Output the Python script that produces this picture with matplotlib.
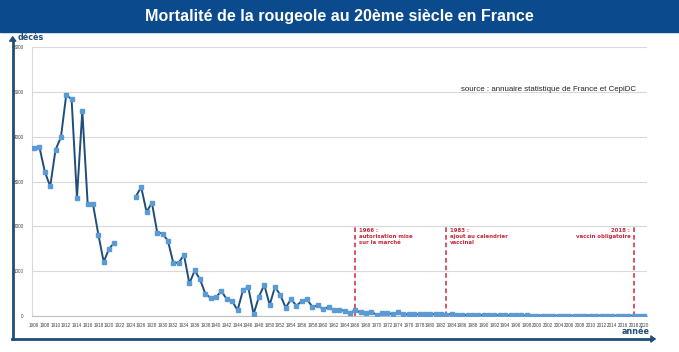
import numpy as np
import matplotlib.pyplot as plt
from matplotlib.patches import Rectangle, FancyArrowPatch

colors = {
    "banner": '#0b4a8c',
    "axis": '#1f4e79',
    "line": '#1f4e79',
    "marker": '#5b9bd5',
    "grid": '#d9d9d9',
    "red": '#c8283c',
    "text": '#404040',
}

years = np.arange(1906, 2021)
deaths = [
    3740, 3760, 3215, 2890, 3710, 3985, 4935, 4830, 2640, 4570,   # 1906-1915
    2505, 2490, 1815, 1205, 1505, 1630, np.nan, np.nan, np.nan, 2665,  # 1916-1925
    2875, 2320, 2525, 1860, 1840, 1675, 1185, 1190, 1360, 725,   # 1926-1935
    1015, 815, 490, 405, 425, 555, 370, 335, 125, 570,           # 1936-1945
    645, 45, 430, 695, 245, 650, 465, 185, 380, 225,             # 1946-1955
    335, 370, 200, 240, 150, 200, 125, 135, 120, 75,             # 1956-1965
    125, 80, 60, 90, 30, 60, 65, 40, 80, 40,                     # 1966-1975
    35, 38, 35, 40, 45, 42, 38, 30, 42, 25,                      # 1976-1985
    22, 25, 20, 22, 20, 18, 17, 18, 15, 15,                      # 1986-1995
    14, 12, 12, 10, 10, 8, 8, 7, 6, 6,                           # 1996-2005
    5, 6, 8, 9, 10, 9, 8, 6, 5, 5,                               # 2006-2015
    5, 6, 7, 8, 5,                                               # 2016-2020
]
deaths = np.array(deaths, dtype=float)

events = [1966, 1983, 2018]
event_labels = ["1966 :\nautorisation mise\nsur la marché",
                "1983 :\najout au calendrier\nvaccinal",
                "2018 :\nvaccin obligatoire"]

W, H = 679, 352
narrow = ['Liberation Sans Narrow', 'Liberation Sans', 'DejaVu Sans']
fig = plt.figure(figsize=(W / 100, H / 100), dpi=100)

# title banner
fig.patches.append(Rectangle((0, (H - 32) / H), 1, 32 / H, transform=fig.transFigure,
                             color=colors['banner'], zorder=0))
fig.text(0.5, (H - 16) / H, "Mortalité de la rougeole au 20ème siècle en France",
         ha='center', va='center', color='white', fontsize=11.6, fontweight='bold',
         family=narrow)

ax = fig.add_axes([32 / W, (H - 316) / H, (647 - 32) / W, (316 - 47) / H])
ax.plot(years, deaths, color=colors['line'], lw=1.4, marker='s', ms=2.6,
        mfc=colors['marker'], mec=colors['marker'], zorder=3)

ax.set_xlim(1905.6, 2020.5)
ax.set_ylim(0, 6000)
ax.set_yticks(np.arange(0, 6001, 1000))
ax.set_xticks(np.arange(1906, 2021, 2))
ax.tick_params(axis='both', length=0, labelsize=3.3, labelcolor=colors['text'])
ax.tick_params(axis='y', pad=6)
ax.tick_params(axis='x', pad=5)
for lbl in ax.get_xticklabels() + ax.get_yticklabels():
    lbl.set_family(narrow)
ax.grid(axis='y', color=colors['grid'], lw=0.8)
ax.set_axisbelow(True)
for s in ['top', 'right']:
    ax.spines[s].set_visible(False)
ax.spines['left'].set_color(colors['grid'])
ax.spines['bottom'].set_color('#bfbfbf')

# vaccine milestones
for yr, lab in zip(events, event_labels):
    ax.plot([yr, yr], [0, 1990], ls=(0, (3, 2)), color=colors['red'], lw=1.1, zorder=2)
    if yr == 2018:
        ax.text(yr - 0.6, 1960, lab, ha='right', va='top', fontsize=3.9,
                fontweight='bold', color=colors['red'], linespacing=1.2)
    else:
        ax.text(yr + 0.7, 1960, lab, ha='left', va='top', fontsize=3.9,
                fontweight='bold', color=colors['red'], linespacing=1.2)

ax.text(2018.5, 5050, "source : annuaire statistique de France et CepiDC",
        ha='right', va='center', fontsize=5.7, color='#262626', family=narrow)

# outer axis arrows
fig.add_artist(plt.Line2D([12.7 / W, 12.7 / W], [(H - 339) / H, (H - 40) / H],
                          transform=fig.transFigure, color=colors['axis'], lw=2))
fig.add_artist(plt.Line2D([11.7 / W, 652 / W], [(H - 339) / H, (H - 339) / H],
                          transform=fig.transFigure, color=colors['axis'], lw=2))
fig.add_artist(FancyArrowPatch((12.7 / W, (H - 42) / H), (12.7 / W, (H - 33) / H),
                               transform=fig.transFigure, arrowstyle='-|>,head_length=3,head_width=2.2',
                               color=colors['axis'], lw=1))
fig.add_artist(FancyArrowPatch((650 / W, (H - 339) / H), (659 / W, (H - 339) / H),
                               transform=fig.transFigure, arrowstyle='-|>,head_length=3,head_width=2.2',
                               color=colors['axis'], lw=1))
fig.text(18 / W, (H - 37) / H, "décès", ha='left', va='center', fontsize=5.8,
         fontweight='bold', color=colors['axis'])
fig.text(650 / W, (H - 332) / H, "année", ha='right', va='center', fontsize=5.8,
         fontweight='bold', color=colors['axis'])

fig.savefig("out.png", dpi=100)
plt.close()
